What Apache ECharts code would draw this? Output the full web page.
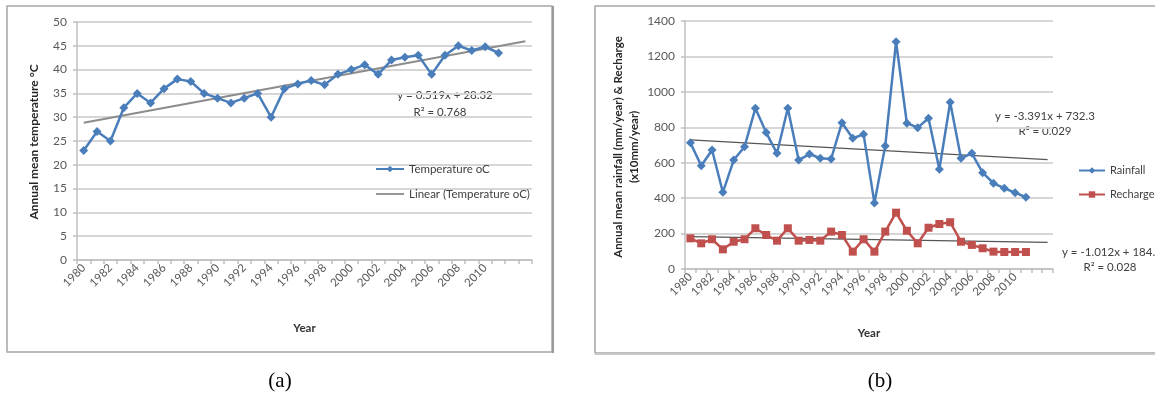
<!DOCTYPE html>
<html><head><meta charset="utf-8">
<script src="https://cdn.jsdelivr.net/npm/echarts@6/dist/echarts.min.js"></script>
<style>html,body{margin:0;padding:0;background:#fff}#c{width:1155px;height:400px}</style>
</head><body><div id="c"></div>
<script>
const years = ['1980','1981','1982','1983','1984','1985','1986','1987','1988','1989','1990','1991','1992','1993','1994','1995','1996','1997','1998','1999','2000','2001','2002','2003','2004','2005','2006','2007','2008','2009','2010','2011','',''];
const temperature = [23,27,25,32,35,33,36,38,37.5,35,34,33,34,35,30,36,37,37.7,36.8,39,40,41,39,42,42.6,43,39,43,45,44,44.8,43.5];
const rainfall = [713,583,672,433,615,690,907,770,653,907,615,649,625,621,826,738,760,373,694,1283,823,798,851,563,941,625,653,544,484,456,431,405];
const recharge = [173,145,168,111,154,168,230,192,160,230,160,164,160,211,192,98,168,98,211,318,216,145,233,254,264,154,136,117,98,96,96,96];
const tempTrend = [[0,28.84],[33,45.97]];
const rainTrend = [[0,728.9],[33,617.2]];
const rechargeTrend = [[0,183.2],[33,149.8]];
const tempTicks = {min:0,max:50,interval:5};
const rainTicks = {min:0,max:1400,interval:200};

const FONT = 'Lato';
const labelColor = '#595959';
const gridColor = '#d6d6d6';
const axisColor = '#bfbfbf';
const lineIcon = 'path://M0,0 L28,0 L28,1.8 L0,1.8 Z';

function xAxis(gi, gap){
  return {type:'category', gridIndex:gi, data:years, boundaryGap:true,
    axisLine:{lineStyle:{color:axisColor,width:1.5}},
    axisTick:{show:true,interval:0,length:4,lineStyle:{color:axisColor,width:1.5}},
    axisLabel:{interval:1,rotate:45,margin:6,color:labelColor,fontFamily:FONT,fontSize:11.5},
    name:'Year', nameLocation:'middle', nameGap:gap,
    nameTextStyle:{fontFamily:FONT,fontWeight:'bold',fontSize:11.5,color:'#333'},
    splitLine:{show:false}};
}
function yAxis(gi, t){
  return {type:'value', gridIndex:gi, min:t.min, max:t.max, interval:t.interval,
    axisLine:{show:true,lineStyle:{color:axisColor,width:1.5}},
    axisTick:{show:true,length:4,lineStyle:{color:axisColor,width:1.5}},
    axisLabel:{color:labelColor,fontFamily:FONT,fontSize:12,margin:10,formatter:v=>String(v)},
    splitLine:{lineStyle:{color:gridColor,width:2}}};
}
const blue = '#4a7ebb', red = '#c0504d';
const chart = echarts.init(document.getElementById('c'));
chart.setOption({
  animation:false,
  grid:[{left:77,top:22,width:455,height:238},{left:685,top:21,width:368,height:248}],
  xAxis:[xAxis(0,62), xAxis(1,58)],
  yAxis:[yAxis(0,tempTicks), yAxis(1,rainTicks)],
  legend:[
    {orient:'vertical',left:370,top:158,itemWidth:28,itemHeight:8,itemGap:13,
     data:['Temperature oC',{name:'Linear (Temperature oC)',icon:lineIcon}],
     textStyle:{fontFamily:FONT,fontSize:11.5,color:'#404040'},selectedMode:false},
    {orient:'vertical',left:1073,top:160,itemWidth:26,itemHeight:8,itemGap:13,
     data:['Rainfall','Recharge'],
     textStyle:{fontFamily:FONT,fontSize:11,color:'#404040'},selectedMode:false}
  ],
  series:[
    {name:'Temperature oC',type:'line',xAxisIndex:0,yAxisIndex:0,data:temperature,showAllSymbol:true,
     symbol:'diamond',symbolSize:9,itemStyle:{color:blue},lineStyle:{color:blue,width:2.5},z:3},
    {name:'Linear (Temperature oC)',type:'line',xAxisIndex:0,yAxisIndex:0,data:tempTrend,
     symbol:'none',itemStyle:{color:'#8c8c8c'},lineStyle:{color:'#8c8c8c',width:2},z:2},
    {name:'Rainfall',type:'line',xAxisIndex:1,yAxisIndex:1,data:rainfall,showAllSymbol:true,
     symbol:'diamond',symbolSize:9,itemStyle:{color:blue},lineStyle:{color:blue,width:2.5},z:3},
    {name:'Recharge',type:'line',xAxisIndex:1,yAxisIndex:1,data:recharge,showAllSymbol:true,
     symbol:'rect',symbolSize:8,itemStyle:{color:red},lineStyle:{color:red,width:2.5},z:3},
    {name:'rainTrend',type:'line',xAxisIndex:1,yAxisIndex:1,data:rainTrend,
     symbol:'none',lineStyle:{color:'#555',width:1.2},z:2},
    {name:'rechargeTrend',type:'line',xAxisIndex:1,yAxisIndex:1,data:rechargeTrend,
     symbol:'none',lineStyle:{color:'#555',width:1.2},z:2}
  ],
  graphic:[
    {type:'rect',shape:{x:7,y:6,width:545,height:346},style:{fill:'none',stroke:'#a6a6a6',lineWidth:1.5},z:-1},
    {type:'line',shape:{x1:553,y1:6,x2:553,y2:353},style:{stroke:'#9a9a9a',lineWidth:2}},
    {type:'rect',shape:{x:595,y:6,width:570,height:347},style:{fill:'none',stroke:'#a6a6a6',lineWidth:1.5},z:-1},
    {type:'line',shape:{x1:595,y1:354,x2:1155,y2:354},style:{stroke:'#c8c8c8',lineWidth:2}},
    {type:'text',x:34,y:142,rotation:Math.PI/2,style:{text:'Annual mean temperature °C',font:'bold 12px Lato',fill:'#262626',align:'center',verticalAlign:'middle'}},
    {type:'text',x:618,y:147,rotation:Math.PI/2,style:{text:'Annual mean rainfall (mm/year) & Recharge',font:'bold 11.5px Lato',fill:'#262626',align:'center',verticalAlign:'middle'}},
    {type:'text',x:634,y:147,rotation:Math.PI/2,style:{text:'(x10mm/year)',font:'bold 11.5px Lato',fill:'#262626',align:'center',verticalAlign:'middle'}},
    {type:'text',x:445,y:95,style:{text:'y = 0.519x + 28.32',font:'11.5px Lato',fill:'#404040',align:'center',verticalAlign:'middle'}},
    {type:'text',x:440,y:112,style:{text:'R² = 0.768',font:'11.5px Lato',fill:'#404040',align:'center',verticalAlign:'middle'}},
    {type:'text',x:1045,y:116,style:{text:'y = -3.391x + 732.3',font:'11.5px Lato',fill:'#404040',align:'center',verticalAlign:'middle'}},
    {type:'text',x:1045,y:131,style:{text:'R² = 0.029',font:'11.5px Lato',fill:'#404040',align:'center',verticalAlign:'middle'}},
    {type:'text',x:1062,y:252,style:{text:'y = -1.012x + 184.2',font:'11.5px Lato',fill:'#404040',align:'left',verticalAlign:'middle'}},
    {type:'text',x:1110,y:267,style:{text:'R² = 0.028',font:'11.5px Lato',fill:'#404040',align:'center',verticalAlign:'middle'}},
    {type:'text',x:280,y:381,style:{text:'(a)',font:'21px "Liberation Serif"',fill:'#000',align:'center',verticalAlign:'middle'}},
    {type:'text',x:880,y:381,style:{text:'(b)',font:'21px "Liberation Serif"',fill:'#000',align:'center',verticalAlign:'middle'}}
  ]
});
</script></body></html>
